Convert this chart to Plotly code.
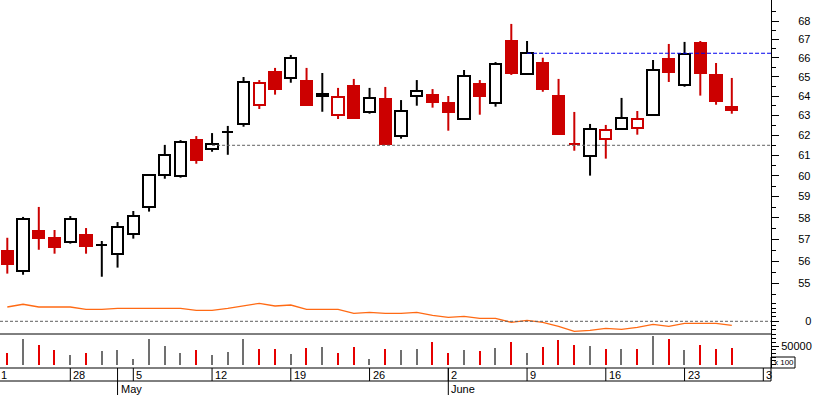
import math
import plotly.graph_objects as go

# ---------------- data ----------------
dates = ["Apr 22", "Apr 23", "Apr 24", "Apr 25", "Apr 28", "Apr 29", "Apr 30", "May 2",
         "May 5", "May 6", "May 7", "May 8", "May 9",
         "May 12", "May 13", "May 14", "May 15", "May 16",
         "May 19", "May 20", "May 21", "May 22", "May 23",
         "May 26", "May 27", "May 28", "May 29", "May 30",
         "Jun 2", "Jun 3", "Jun 4", "Jun 5", "Jun 6",
         "Jun 9", "Jun 10", "Jun 11", "Jun 12", "Jun 13",
         "Jun 16", "Jun 17", "Jun 18", "Jun 19", "Jun 20",
         "Jun 23", "Jun 24", "Jun 25", "Jun 26"]

open_ = [56.46, 55.55, 57.38, 57.06, 56.86, 57.20, 56.72, 56.31, 57.23, 58.49, 60.03, 59.98,
         61.76, 61.30, 62.14, 62.55, 63.52, 65.25, 64.92, 64.78, 64.02, 63.01, 64.52, 63.16,
         63.85, 61.95, 63.98, 64.05, 63.64, 62.81, 64.63, 63.62, 66.91, 65.13, 65.73, 64.00,
         61.56, 60.96, 61.81, 62.30, 62.35, 63.01, 65.94, 64.56, 66.80, 65.10, 63.43]
high = [57.07, 58.04, 58.51, 57.43, 58.08, 57.52, 56.92, 57.80, 58.32, 60.05, 61.52, 61.76,
        61.96, 62.11, 62.47, 64.99, 64.83, 65.47, 66.16, 65.47, 65.20, 64.42, 64.89, 64.42,
        64.47, 63.79, 64.83, 64.36, 64.00, 65.36, 64.83, 65.78, 67.84, 66.91, 66.01, 64.89,
        63.18, 62.57, 62.52, 63.90, 63.23, 65.89, 66.75, 66.86, 66.91, 65.73, 64.94]
low = [55.44, 55.39, 56.52, 56.34, 56.80, 56.34, 55.30, 55.71, 57.03, 58.29, 59.86, 59.91,
       60.59, 61.18, 61.03, 62.43, 63.33, 64.07, 64.69, 63.53, 63.19, 62.82, 62.87, 63.09,
       61.56, 61.83, 63.50, 63.40, 62.23, 62.79, 63.04, 63.45, 65.10, 65.11, 64.22, 62.06,
       61.23, 60.01, 60.84, 62.28, 62.03, 62.99, 64.73, 64.48, 64.02, 63.55, 63.09]
close = [55.89, 57.93, 57.07, 56.66, 57.93, 56.71, 56.76, 57.56, 58.07, 60.03, 61.00, 61.68,
         60.79, 61.55, 62.15, 64.71, 64.66, 64.38, 65.98, 63.55, 64.10, 63.93, 62.89, 63.88,
         61.58, 63.21, 64.24, 63.71, 63.19, 65.03, 64.02, 65.66, 65.22, 66.25, 64.38, 62.08,
         61.55, 62.30, 62.25, 62.86, 62.81, 65.38, 65.27, 66.20, 65.22, 63.76, 63.30]

# volume in units of 100 shares (axis shows "x 100")
volume = [32100, 68700, 53500, 40100, 26700, 32100, 37400, 40100, 15200, 68700, 50800, 32100,
          40100, 26700, 34800, 68700, 42800, 42800, 29400, 45500, 48100, 32100, 48100, 15200,
          42800, 40100, 42800, 61500, 32100, 40100, 37400, 45500, 61500, 32100, 48100, 66800,
          53500, 50800, 42800, 42800, 42800, 77500, 69500, 40100, 53500, 42800, 45500]

indicator = [3.30, 3.93, 3.30, 3.30, 3.30, 2.77, 2.77, 3.00, 3.00, 3.00, 3.00, 3.00,
             2.54, 2.54, 3.00, 3.53, 4.16, 3.53, 3.76, 2.77, 2.77, 2.77, 1.85, 2.08,
             1.85, 1.85, 2.08, 1.39, 0.92, 1.15, 0.69, 0.69, -0.23, 0.23, -0.23, -1.15,
             -2.31, -2.08, -1.62, -1.85, -1.39, -0.69, -1.15, -0.46, -0.46, -0.46, -0.92]

support_start, support_level = 13, 61.50
resist_start, resist_level = 33, 66.25

price_ticks = [55, 56, 57, 58, 59, 60, 61, 62, 63, 64, 65, 66, 67, 68]
price_minor = [54.5, 55.5, 56.5, 57.5, 58.5, 59.5, 60.5, 61.5, 62.5, 63.5, 64.5, 65.5,
               66.5, 67.5, 68.5]

# day ticks (Mondays); the first and last labels are clipped at the chart edges
day_tick_idx = [-1, 4, 8, 13, 18, 23, 28, 33, 38, 43, 48]
day_tick_lbl = ["1", "28", "5", "12", "19", "26", "2", "9", "16", "23", "3"]
month_idx = [7, 28]
month_lbl = ["May", "June"]

# ---------------- styles ----------------
RED = "#CC0000"
VRED = "#E60000"
BLACK = "#000000"
GRAY = "#707070"
ORANGE = "#FF6A14"
FONT = "Liberation Sans, Arial, sans-serif"

n = len(close)
idx = list(range(n))
prev_close = [open_[0]] + close[:-1]
down = [close[i] < prev_close[i] for i in idx]
hollow = [close[i] >= open_[i] for i in idx]

edge = [RED if d else BLACK for d in down]
fill = ["white" if h else (RED if d else BLACK) for h, d in zip(hollow, down)]
body_lo = [min(o, c) for o, c in zip(open_, close)]
body_h = [max(abs(c - o), 0.005) for o, c in zip(open_, close)]

fig = go.Figure()

# wicks (split above / below the body)
for col in (BLACK, RED):
    wx, wy = [], []
    for i in idx:
        if edge[i] != col:
            continue
        top = max(open_[i], close[i])
        bot = min(open_[i], close[i])
        if high[i] > top:
            wx += [i, i, None]
            wy += [top, high[i], None]
        if low[i] < bot:
            wx += [i, i, None]
            wy += [low[i], bot, None]
    fig.add_trace(go.Scatter(x=wx, y=wy, mode="lines", line=dict(color=col, width=2),
                             hoverinfo="skip", showlegend=False, xaxis="x", yaxis="y"))

fig.add_trace(go.Bar(x=idx, y=body_h, base=body_lo, width=0.71,
                     marker=dict(color=fill, line=dict(color=edge, width=2)),
                     hovertext=dates, showlegend=False, xaxis="x", yaxis="y"))

XMIN = -0.4635
XMAX = 48.489

# support / resistance
fig.add_trace(go.Scatter(x=[support_start, XMAX], y=[support_level, support_level], mode="lines",
                         line=dict(color="#606060", width=1, dash="3px,2px"),
                         hoverinfo="skip", showlegend=False, xaxis="x", yaxis="y"))
fig.add_trace(go.Scatter(x=[resist_start, XMAX], y=[resist_level, resist_level], mode="lines",
                         line=dict(color="#0000EE", width=1.2, dash="4px,2px"),
                         hoverinfo="skip", showlegend=False, xaxis="x", yaxis="y"))

# indicator
fig.add_trace(go.Scatter(x=idx, y=indicator, mode="lines", line=dict(color=ORANGE, width=1.3),
                         hoverinfo="skip", showlegend=False, xaxis="x", yaxis="y2"))
fig.add_trace(go.Scatter(x=[XMIN, XMAX], y=[0, 0], mode="lines",
                         line=dict(color="#606060", width=1, dash="3px,2px"),
                         hoverinfo="skip", showlegend=False, xaxis="x", yaxis="y2"))

# volume
fig.add_trace(go.Bar(x=idx, y=volume, width=0.09,
                     marker=dict(color=[VRED if d else GRAY for d in down], line=dict(width=0)),
                     showlegend=False, xaxis="x", yaxis="y3"))

H = 368.0  # plot-area height in px
def py(px):  # pixel (from top) -> paper y
    return (H - px) / H

def pxr(i):  # index -> paper x
    return (i - XMIN) / (XMAX - XMIN)

tickfont = dict(family=FONT, size=11, color=BLACK)

shapes = []
for y in (334, 368, 381):
    shapes.append(dict(type="line", xref="paper", yref="paper", x0=0, x1=1, y0=py(y), y1=py(y),
                       line=dict(color=BLACK, width=1)))
shapes.append(dict(type="line", xref="paper", yref="paper", x0=1, x1=1, y0=py(368), y1=py(381),
                   line=dict(color=BLACK, width=1)))
for i in day_tick_idx:
    shapes.append(dict(type="line", xref="paper", yref="paper", x0=pxr(i), x1=pxr(i),
                       y0=py(368), y1=py(381), line=dict(color=BLACK, width=1)))
for i in month_idx:
    shapes.append(dict(type="line", xref="paper", yref="paper", x0=pxr(i), x1=pxr(i),
                       y0=py(368), y1=py(395), line=dict(color=BLACK, width=1)))
# "x 100" box
shapes.append(dict(type="rect", xref="paper", yref="paper", x0=1, x1=795 / 771,
                   y0=py(368), y1=py(357), line=dict(color=BLACK, width=1)))

annotations = []
for i, t in zip(day_tick_idx, day_tick_lbl):
    annotations.append(dict(text=t, xref="paper", yref="paper", x=max(pxr(i), 0), y=py(375),
                            xanchor="left", yanchor="middle", xshift=1 if pxr(i) > 0 else -1,
                            showarrow=False, font=tickfont))
for i, t in zip(month_idx, month_lbl):
    annotations.append(dict(text=t, xref="paper", yref="paper", x=pxr(i), y=py(388.5),
                            xanchor="left", yanchor="middle", xshift=1, showarrow=False,
                            font=tickfont))
annotations.append(dict(text="x 100", xref="paper", yref="paper", x=783.5 / 771, y=py(362.5),
                        xanchor="center", yanchor="middle", showarrow=False,
                        font=dict(family=FONT, size=8, color=BLACK)))

common_y = dict(side="right", anchor="x", showgrid=False, zeroline=False, showline=True,
                linecolor=BLACK, linewidth=1, ticks="outside", tickcolor=BLACK, tickwidth=1,
                tickfont=tickfont, fixedrange=True)

fig.update_layout(
    width=817, height=395,
    margin=dict(l=0, r=46, t=0, b=27),
    paper_bgcolor="white", plot_bgcolor="white",
    showlegend=False, barmode="overlay", bargap=0,
    xaxis=dict(range=[XMIN, XMAX], showticklabels=False, ticks="", showgrid=False,
               zeroline=False, showline=False, anchor="y3", fixedrange=True),
    yaxis=dict(common_y, domain=[py(300), 1], type="log",
               range=[math.log10(54.27), math.log10(69.1645)],
               tickvals=price_ticks, ticktext=[str(t) for t in price_ticks], ticklen=7,
               ticklabelstandoff=17,
               minor=dict(tickvals=price_minor, ticklen=4, ticks="outside", tickcolor=BLACK,
                          showgrid=False)),
    yaxis2=dict(common_y, domain=[py(334), py(300)], range=[-2.933, 4.919],
                tickvals=[0], ticktext=["0"], ticklen=7, ticklabelstandoff=24,
                minor=dict(dtick=1, ticklen=4, ticks="outside", tickcolor=BLACK, showgrid=False)),
    yaxis3=dict(common_y, domain=[0, py(334)], range=[-8824, 82086],
                tickvals=[50000], ticktext=["50000"], ticklen=7, ticklabelstandoff=0,
                minor=dict(dtick=10000, ticklen=4, ticks="outside", tickcolor=BLACK,
                           showgrid=False)),
    shapes=shapes,
    annotations=annotations,
)

fig.write_html("out.html", config={"displayModeBar": False},
               post_script="document.body.style.margin='0';document.body.style.overflow='hidden';")
